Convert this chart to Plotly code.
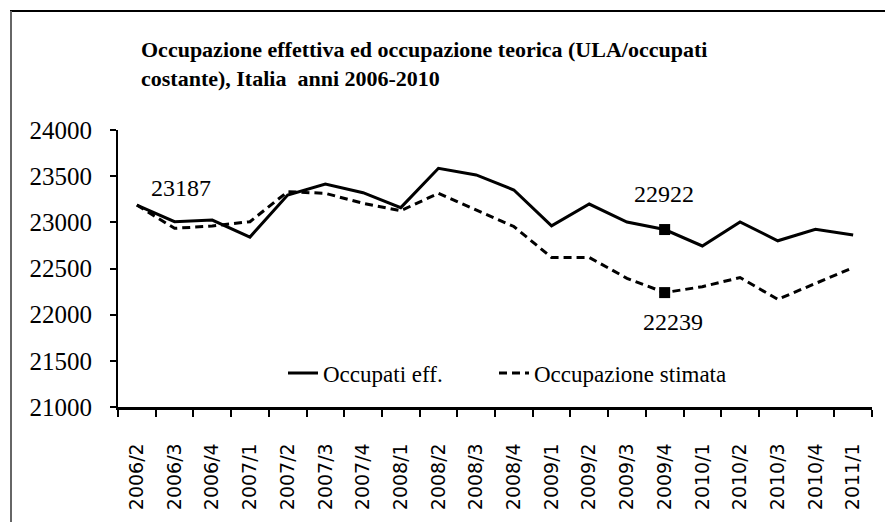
import plotly.graph_objects as go

categories = ["2006/2", "2006/3", "2006/4", "2007/1", "2007/2", "2007/3", "2007/4",
              "2008/1", "2008/2", "2008/3", "2008/4", "2009/1", "2009/2", "2009/3",
              "2009/4", "2010/1", "2010/2", "2010/3", "2010/4", "2011/1"]
occupati_eff = [23187, 23007, 23025, 22840, 23296, 23415, 23321, 23159, 23585, 23513,
                23350, 22962, 23198, 23003, 22922, 22744, 23005, 22800, 22925, 22863]
occupazione_stimata = [23187, 22935, 22960, 23007, 23332, 23314, 23206, 23126, 23314, 23134,
                       22955, 22620, 22620, 22394, 22239, 22303, 22402, 22166, 22339, 22510]
y_ticks = [21000, 21500, 22000, 22500, 23000, 23500, 24000]
name_eff = "Occupati eff."
name_stim = "Occupazione stimata"
title_text = "Occupazione effettiva ed occupazione teorica (ULA/occupati<br>costante), Italia  anni 2006-2010"
highlight = "2009/4"

SERIF = "Liberation Serif, Times New Roman, serif"

# plot-area geometry in pixels (used only for decorations)
L, R, T, B = 118, 13, 130, 115
W, H = 885, 522
PW, PH = W - L - R, H - T - B


def px_x(px):
    return (px - L) / PW


def px_y(py):
    return (H - B - py) / PH


fig = go.Figure()
fig.add_trace(go.Scatter(x=categories, y=occupati_eff, mode="lines", name=name_eff,
                         legend="legend",
                         line=dict(color="black", width=3)))
fig.add_trace(go.Scatter(x=categories, y=occupazione_stimata, mode="lines", name=name_stim,
                         legend="legend2",
                         line=dict(color="black", width=3, dash="8px,5px")))

hi = categories.index(highlight)
fig.add_trace(go.Scatter(x=[categories[hi], categories[hi]],
                         y=[occupati_eff[hi], occupazione_stimata[hi]],
                         mode="markers", showlegend=False, hoverinfo="skip",
                         marker=dict(symbol="square", size=11, color="black")))

ann_font = dict(family=SERIF, size=24, color="black")
fig.add_annotation(x=categories[0], y=occupati_eff[0], text=str(occupati_eff[0]),
                   showarrow=False, xshift=44, yshift=17, font=ann_font)
fig.add_annotation(x=categories[hi], y=occupati_eff[hi], text=str(occupati_eff[hi]),
                   showarrow=False, xshift=-1, yshift=36, font=ann_font)
fig.add_annotation(x=categories[hi], y=occupazione_stimata[hi], text=str(occupazione_stimata[hi]),
                   showarrow=False, xshift=8, yshift=-29, font=ann_font)

# outer frame (cut at the right and bottom)
fig.add_shape(type="line", xref="paper", yref="paper",
              x0=px_x(10), x1=px_x(900), y0=px_y(11), y1=px_y(11),
              line=dict(color="black", width=2))
fig.add_shape(type="line", xref="paper", yref="paper",
              x0=px_x(11), x1=px_x(11), y0=px_y(11), y1=px_y(530),
              line=dict(color="#666666", width=2))

leg_font = dict(family=SERIF, size=23, color="black")
fig.update_layout(
    width=W, height=H, autosize=False,
    margin=dict(l=L, r=R, t=T, b=B, pad=0),
    paper_bgcolor="white", plot_bgcolor="white",
    font=dict(family=SERIF, color="black"),
    title=dict(text=title_text, x=141 / W, xanchor="left", xref="container",
               y=1 - 57 / H, yanchor="top", yref="container",
               font=dict(family=SERIF, size=22, color="black", weight="bold")),
    showlegend=True,
    legend=dict(orientation="h", x=px_x(283), xanchor="left", y=px_y(373), yanchor="middle",
                font=leg_font, bgcolor="rgba(0,0,0,0)"),
    legend2=dict(orientation="h", x=px_x(494), xanchor="left", y=px_y(373), yanchor="middle",
                 font=leg_font, bgcolor="rgba(0,0,0,0)"),
    xaxis=dict(type="category", categoryorder="array", categoryarray=categories,
               range=[-0.5, len(categories) - 0.5],
               showline=True, linecolor="black", linewidth=2.5, mirror=False,
               showgrid=False, zeroline=False,
               ticks="outside", tickson="boundaries", ticklen=7, tickwidth=1.5, tickcolor="black",
               tickangle=-90, ticklabelstandoff=26,
               tickfont=dict(family="DejaVu Sans", size=19, color="black")),
    yaxis=dict(range=[21000, 24000], tickvals=y_ticks, ticktext=[str(v) for v in y_ticks],
               showline=True, linecolor="black", linewidth=2, showgrid=False, zeroline=False,
               ticks="outside", ticklen=6, tickwidth=1.5, tickcolor="black",
               ticklabelstandoff=13,
               tickfont=dict(family=SERIF, size=25, color="black")),
)

fig.write_html("out.html", config={"displayModeBar": False},
               post_script="document.body.style.margin='0';document.body.style.overflow='hidden';")
